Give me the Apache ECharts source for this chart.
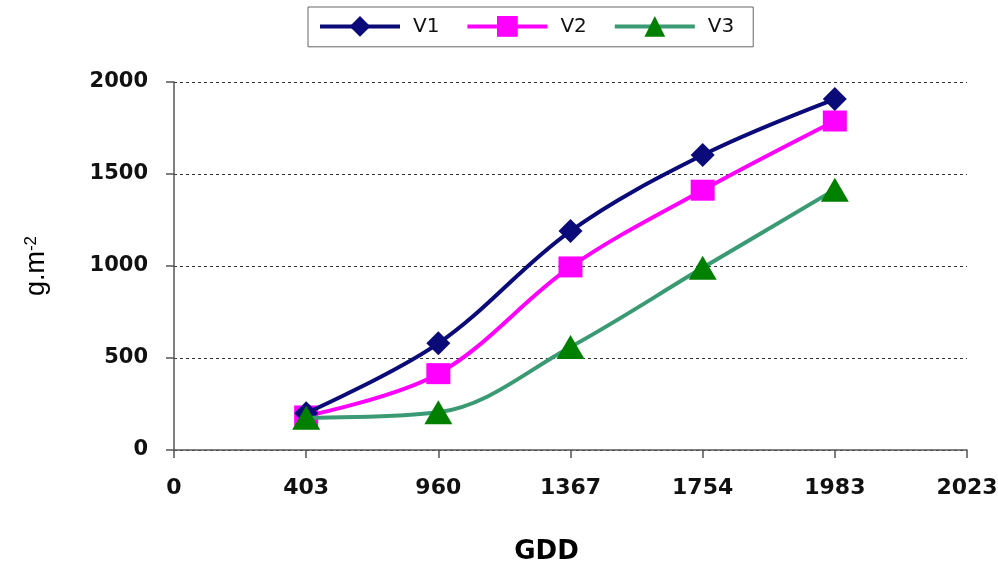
<!DOCTYPE html>
<html>
<head>
<meta charset="utf-8">
<script src="https://cdn.jsdelivr.net/npm/echarts@6/dist/echarts.min.js"></script>
<style>html,body{margin:0;padding:0;background:#fff}#c{width:998px;height:567px}</style>
</head>
<body>
<div id="c"></div>
<script>
const categories = ['0', '403', '960', '1367', '1754', '1983', '2023'];
const v1 = [null, 200, 580, 1190, 1603, 1907, null];
const v2 = [null, 185, 415, 995, 1412, 1788, null];
const v3 = [null, 175, 205, 560, 990, 1415, null];
const yTicks = { min: 0, max: 2000, interval: 500 };

const chart = echarts.init(document.getElementById('c'));
const axisFont = 'DejaVu Sans';
chart.setOption({
  backgroundColor: '#ffffff',
  animation: false,
  legend: {
    left: 308, top: 7,
    padding: [9, 19, 10, 10],
    borderColor: '#666', borderWidth: 1,
    itemWidth: 80, itemHeight: 26, itemGap: 26,
    lineStyle: { width: 4 },
    textStyle: { fontFamily: axisFont, fontSize: 20, color: '#111', padding: [0, 0, 0, 8] },
    data: ['V1', 'V2', 'V3']
  },
  grid: { left: 174, right: 31, top: 82, bottom: 117, containLabel: false, outerBoundsMode: 'none' },
  xAxis: {
    type: 'category',
    data: categories,
    boundaryGap: false,
    name: 'GDD',
    nameLocation: 'middle',
    nameGap: 89,
    nameTextStyle: { fontFamily: axisFont, fontWeight: 'bold', fontSize: 26, color: '#000', padding: [0, 48, 0, 0] },
    axisLine: { lineStyle: { color: '#555', width: 1.5 } },
    axisTick: { alignWithLabel: true, length: 8, lineStyle: { color: '#555', width: 1.5 } },
    axisLabel: { interval: 0, margin: 27, fontFamily: axisFont, fontWeight: 'bold', fontSize: 22, color: '#111' },
    splitLine: { show: false }
  },
  yAxis: {
    type: 'value',
    min: yTicks.min, max: yTicks.max, interval: yTicks.interval,
    name: 'g.m{sup|-2}',
    nameLocation: 'middle',
    nameGap: 124,
    nameRotate: 90,
    nameTextStyle: {
      fontFamily: 'Liberation Sans', fontSize: 27, color: '#000',
      rich: { sup: { fontFamily: 'Liberation Sans', fontSize: 17, verticalAlign: 'top', color: '#000' } }
    },
    axisLine: { show: true, lineStyle: { color: '#555', width: 1.5 } },
    axisTick: { show: true, length: 8, lineStyle: { color: '#555', width: 1.5 } },
    axisLabel: { margin: 26, fontFamily: axisFont, fontWeight: 'bold', fontSize: 21, color: '#111',
      formatter: function (v) { return String(v); } },
    splitLine: { show: true, lineStyle: { color: '#333', type: [3, 3], width: 1 } }
  },
  series: [
    {
      name: 'V1', type: 'line', data: v1, smooth: 0.35,
      symbol: 'diamond', symbolSize: [24, 24],
      lineStyle: { color: '#0a0a78', width: 4 },
      itemStyle: { color: '#0a0a78' },
      z: 4
    },
    {
      name: 'V2', type: 'line', data: v2, smooth: 0.35,
      symbol: 'rect', symbolSize: [24, 21],
      lineStyle: { color: '#ff00ff', width: 4 },
      itemStyle: { color: '#ff00ff' },
      z: 3
    },
    {
      name: 'V3', type: 'line', data: v3, smooth: 0.35,
      symbol: 'triangle', symbolSize: [28, 24],
      lineStyle: { color: '#3a9a74', width: 4 },
      itemStyle: { color: '#008000' },
      z: 5
    }
  ]
});
</script>
</body>
</html>
